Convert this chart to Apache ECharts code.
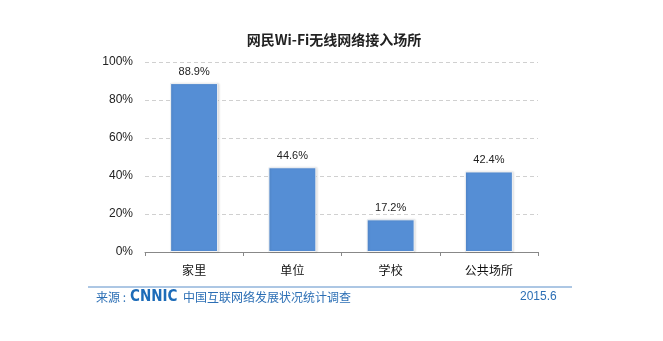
<!DOCTYPE html>
<html><head><meta charset="utf-8">
<script src="https://cdn.jsdelivr.net/npm/echarts@6/dist/echarts.min.js"></script>
<style>html,body{margin:0;padding:0;background:#fff}#c{width:663px;height:341px}</style>
</head><body><div id="c"></div>
<script>
var categories = ['家里', '单位', '学校', '公共场所'];
var values = [88.9, 44.6, 17.2, 42.4];
var yTicks = [0, 20, 40, 60, 80, 100];
var titleText = '网民Wi-Fi无线网络接入场所';
var sourceLabel = '来源 :';
var logoText = 'CNNIC';
var sourceText = '中国互联网络发展状况统计调查';
var dateText = '2015.6';

var chart = echarts.init(document.getElementById('c'), null, {renderer: 'canvas'});
var font = '"Microsoft YaHei","Noto Sans CJK SC",sans-serif';
chart.setOption({
  animation: false,
  backgroundColor: '#fff',
  title: {
    text: titleText, left: 329, top: 28, textAlign: 'center',
    textStyle: {fontSize: 14, fontWeight: 'bold', color: '#222', fontFamily: font}
  },
  grid: {left: 145, right: 125, top: 62, bottom: 89, containLabel: false},
  xAxis: {
    type: 'category', data: categories,
    axisLine: {lineStyle: {color: '#888', width: 1}},
    axisTick: {show: true, alignWithLabel: false, length: 4, inside: false, lineStyle: {color: '#888'}},
    axisLabel: {fontSize: 12, color: '#111', margin: 12, fontFamily: font}
  },
  yAxis: {
    type: 'value', min: yTicks[0], max: yTicks[yTicks.length - 1], interval: 20,
    axisLine: {show: false}, axisTick: {show: false},
    axisLabel: {formatter: '{value}%', fontSize: 12, color: '#222', margin: 12, fontFamily: 'Arial, "Liberation Sans", sans-serif'},
    splitLine: {lineStyle: {color: '#d0d0d0', type: [4, 3]}}
  },
  series: [{
    type: 'bar', data: values, barWidth: 48,
    itemStyle: {color: '#558ed5', borderColor: '#f4f4f4', borderWidth: 1, shadowColor: 'rgba(0,0,0,0.12)', shadowBlur: 2, shadowOffsetX: 1},
    label: {show: true, position: 'top', distance: 6, formatter: function(p){return p.value.toFixed(1) + '%';},
      fontSize: 11, color: '#222', fontFamily: 'Arial, "Liberation Sans", sans-serif'}
  }],
  graphic: [
    {type: 'line', shape: {x1: 88, y1: 287, x2: 572, y2: 287}, style: {stroke: '#5b8fc9', lineWidth: 1}},
    {type: 'text', left: 96, top: 291, style: {text: sourceLabel, fontSize: 12, fill: '#2c6fb5', fontFamily: font}},
    {type: 'text', left: 130, top: 290, style: {text: logoText, fontSize: 15, fontWeight: 'bold', fill: '#1c6bb8', fontFamily: '"DejaVu Sans Condensed","DejaVu Sans",sans-serif'}},
    {type: 'text', left: 183, top: 291, style: {text: sourceText, fontSize: 12, fill: '#2c6fb5', fontFamily: font}},
    {type: 'text', left: 520, top: 291, style: {text: dateText, fontSize: 12, fill: '#2c6fb5', fontFamily: 'Arial, "Liberation Sans", sans-serif'}}
  ]
});
</script></body></html>
